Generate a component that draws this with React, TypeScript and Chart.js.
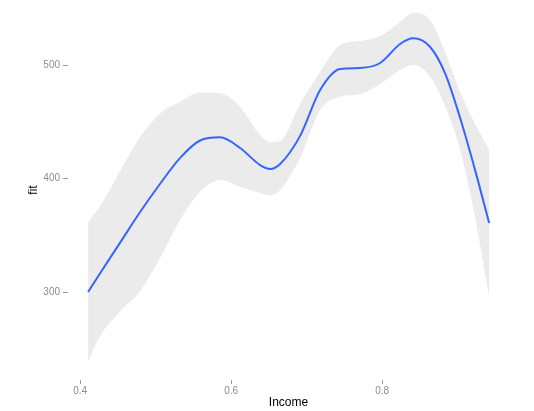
import React, { useEffect, useRef } from "react";
import { Chart, registerables } from "chart.js";

Chart.register(...registerables);

const income = [0.4106, 0.4265, 0.453, 0.4795, 0.506, 0.5325, 0.5589, 0.5854, 0.6119, 0.6384, 0.6517, 0.6649, 0.6914, 0.7179, 0.7444, 0.7709, 0.7974, 0.8238, 0.8411, 0.8636, 0.8834, 0.9033, 0.9232, 0.9417];
const fit = [300.0, 316.5, 343.5, 370.5, 395.4, 418.2, 433.5, 436.3, 426.9, 411.9, 408.4, 412.8, 437.6, 478.0, 496.5, 497.4, 501.8, 518.5, 523.5, 515.9, 492.7, 453.3, 407.2, 360.8];
const upper = [361.5, 375.7, 406.6, 436.6, 457.4, 467.7, 475.8, 475.1, 463.3, 438.3, 432.2, 433.0, 465.6, 493.8, 517.6, 521.1, 525.6, 537.9, 545.8, 539.6, 511.5, 476.2, 448.0, 425.1];
const lower = [238.6, 261.2, 282.8, 300.9, 330.0, 363.4, 388.4, 398.7, 392.8, 387.2, 385.0, 389.9, 418.1, 460.4, 472.1, 474.4, 483.3, 495.6, 500.0, 489.7, 463.9, 425.1, 365.2, 295.6];
const xTicks = [0.4, 0.6, 0.8];
const yTicks = [300, 400, 500];

const pts = (ys: number[]) => income.map((x, i) => ({ x, y: ys[i] }));

export default function App() {
  const ref = useRef<HTMLCanvasElement>(null);
  useEffect(() => {
    if (!ref.current) return;
    const tickFont = { family: "Liberation Sans, Arial, sans-serif", size: 10 };
    const titleFont = { family: "Liberation Sans, Arial, sans-serif", size: 12 };
    const chart = new Chart(ref.current, {
      type: "line",
      data: {
        datasets: [
          {
            data: pts(upper),
            order: 2,
            borderWidth: 0,
            pointRadius: 0,
            cubicInterpolationMode: "monotone",
            fill: "+1",
            backgroundColor: "#ebebeb",
            borderColor: "rgba(0,0,0,0)",
          },
          {
            data: pts(lower),
            order: 2,
            borderWidth: 0,
            pointRadius: 0,
            cubicInterpolationMode: "monotone",
            fill: false,
            borderColor: "rgba(0,0,0,0)",
          },
          {
            data: pts(fit),
            order: 0,
            borderWidth: 2,
            pointRadius: 0,
            cubicInterpolationMode: "monotone",
            fill: false,
            borderColor: "#3366ff",
          },
        ],
      },
      options: {
        animation: false,
        responsive: false,
        maintainAspectRatio: false,
        layout: { padding: { left: 26, right: 25, top: 0, bottom: 0 } },
        plugins: { legend: { display: false }, tooltip: { enabled: false } },
        scales: {
          x: {
            type: "linear",
            min: 0.384,
            max: 0.968,
            afterBuildTicks: (s: any) => {
              s.ticks = xTicks.map((v) => ({ value: v }));
            },
            afterFit: (s: any) => {
              s.height = 31;
              s.paddingLeft = 0;
              s.paddingRight = 0;
            },
            border: { display: false },
            grid: { drawOnChartArea: false, tickLength: 4, tickColor: "#999999", tickWidth: 1 },
            ticks: { color: "#8c8c8c", font: tickFont, padding: 1, maxRotation: 0, callback: (v: any) => String(v) },
            title: { display: true, text: "Income", color: "#000", font: titleFont, padding: { top: 0, bottom: 1 } },
          },
          y: {
            type: "linear",
            min: 222.5,
            max: 557.3,
            afterBuildTicks: (s: any) => {
              s.ticks = yTicks.map((v) => ({ value: v }));
            },
            afterFit: (s: any) => {
              s.width = 42;
              s.paddingTop = 0;
              s.paddingBottom = 0;
            },
            border: { display: false },
            grid: { drawOnChartArea: false, tickLength: 5, tickColor: "#999999", tickWidth: 1 },
            ticks: { color: "#8c8c8c", font: tickFont, padding: 3 },
            title: { display: true, text: "fit", color: "#000", font: titleFont, padding: { top: 0, bottom: 0 } },
          },
        },
      },
    });
    return () => chart.destroy();
  }, []);
  return (
    <div style={{ position: "fixed", left: 0, top: 0, width: 534, height: 411, background: "#fff" }}>
      <canvas ref={ref} width={534} height={411} style={{ display: "block", width: 534, height: 411 }} />
    </div>
  );
}
